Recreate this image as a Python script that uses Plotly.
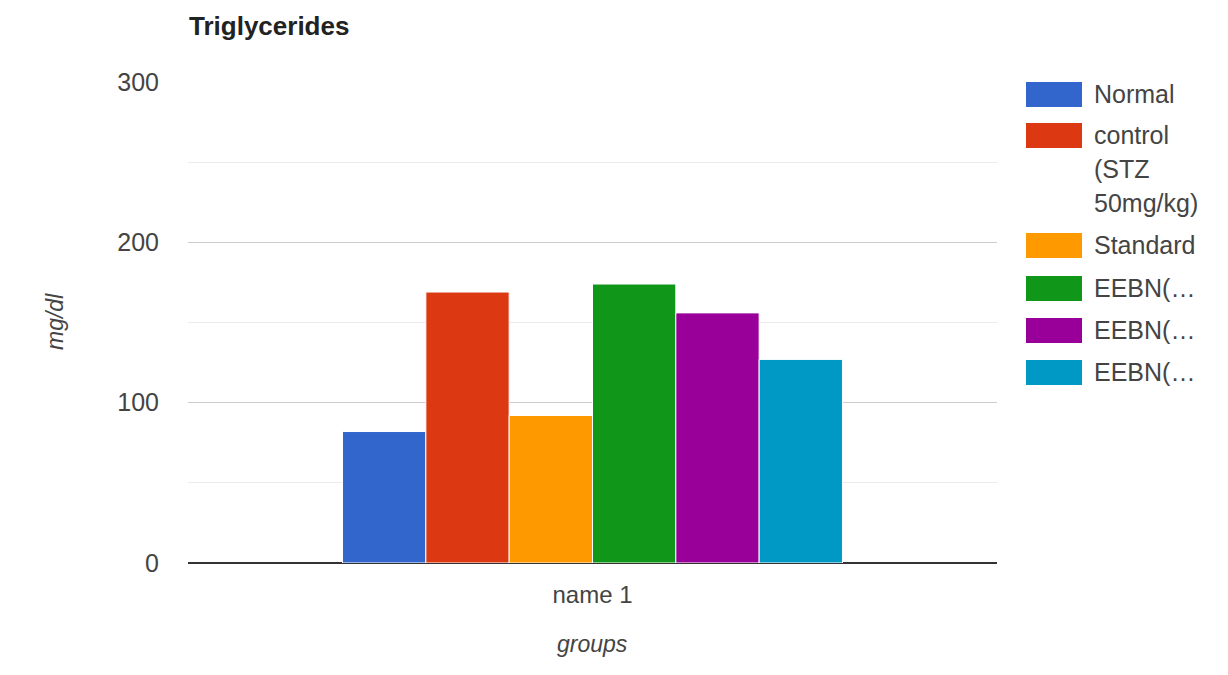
import plotly.graph_objects as go

# Data
categories = ["name 1"]
series_names = ["Normal", "control (STZ 50mg/kg)", "Standard", "EEBN(...", "EEBN(...", "EEBN(..."]
legend_lines = [["Normal"], ["control", "(STZ", "50mg/kg)"], ["Standard"], ["EEBN(…"], ["EEBN(…"], ["EEBN(…"]]
values = [82, 169, 92, 174, 156, 127]
colors = ["#3366cc", "#dc3912", "#ff9900", "#109618", "#990099", "#0099c6"]
y_ticks = [0, 100, 200, 300]

W, H = 1228, 675
ML, MR, MT, MB = 188, 231, 82, 112
PW, PH = W - ML - MR, H - MT - MB

FONT = "Liberation Sans, Arial, sans-serif"
TXT = "#444444"


def px_x(x):
    return (x - ML) / PW


def px_y(y):
    return (H - MB - y) / PH


fig = go.Figure()
for name, v, c in zip(series_names, values, colors):
    fig.add_trace(go.Bar(
        x=categories, y=[v], name=name,
        marker=dict(color=c, line=dict(color="white", width=1)),
        showlegend=False,
    ))

# Legend drawn as swatches + labels
sw_top = [82, 123, 233, 276, 318, 360]
for top, lines, c in zip(sw_top, legend_lines, colors):
    fig.add_shape(type="rect", xref="paper", yref="paper",
                  x0=px_x(1026), x1=px_x(1082), y0=px_y(top), y1=px_y(top + 25),
                  fillcolor=c, line=dict(width=0))
    for i, line in enumerate(lines):
        fig.add_annotation(xref="paper", yref="paper", x=px_x(1092), y=px_y(top + 12 + 34 * i),
                           xanchor="left", yanchor="middle", text=line, showarrow=False,
                           align="left", font=dict(family=FONT, size=25, color=TXT))

# Axis titles
fig.add_annotation(xref="paper", yref="paper", x=px_x(40), y=px_y(322),
                   text="<i>mg/dl</i>", textangle=-90, showarrow=False,
                   font=dict(family=FONT, size=23, color=TXT))
fig.add_annotation(xref="paper", yref="paper", x=px_x(592), y=px_y(659),
                   text="<i>groups</i>", showarrow=False,
                   font=dict(family=FONT, size=23, color=TXT))

fig.update_layout(
    width=W, height=H,
    margin=dict(l=ML, r=MR, t=MT, b=MB),
    paper_bgcolor="white", plot_bgcolor="white",
    barmode="group", bargap=0.382, bargroupgap=0,
    title=dict(text="<b>Triglycerides</b>", xref="container", yref="container",
               x=189 / W, y=1 - 26 / H, xanchor="left", yanchor="middle",
               font=dict(family=FONT, size=26, color="#222222")),
    font=dict(family=FONT),
    xaxis=dict(showgrid=False, showline=False, ticks="", ticklabelstandoff=15,
               tickfont=dict(family=FONT, size=24, color=TXT)),
    yaxis=dict(range=[0, 300], tickvals=y_ticks, showgrid=True, gridcolor="#cccccc",
               gridwidth=1, zeroline=True, zerolinecolor="#333333", zerolinewidth=1.5,
               showline=False, ticks="", ticklabelstandoff=28,
               tickfont=dict(family=FONT, size=25, color=TXT),
               minor=dict(dtick=50, showgrid=True, gridcolor="#ebebeb", gridwidth=1)),
)

fig.write_html("out.html")
